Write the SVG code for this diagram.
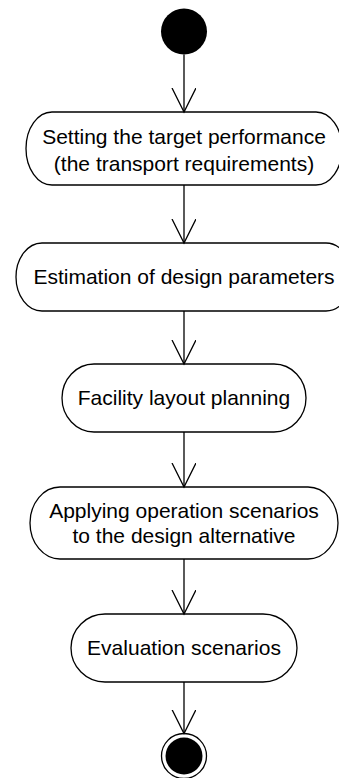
<svg xmlns="http://www.w3.org/2000/svg" width="339" height="778" viewBox="0 0 339 778">
<style>
.node{fill:#fff;stroke:#000;stroke-width:1.3}
.lbl{font-family:"Liberation Sans",Arial,sans-serif;font-size:21px;fill:#000;text-anchor:middle}
.edge{fill:none;stroke:#000;stroke-width:1.3}
</style>
<defs>
<marker id="open" markerUnits="userSpaceOnUse" markerWidth="30" markerHeight="30" refX="24" refY="12" orient="auto" viewBox="0 0 30 30">
<path d="M0,0 L24,12 L0,24" fill="none" stroke="#000" stroke-width="1.3"/>
</marker>
</defs>
<g id="start"><circle cx="184" cy="31.5" r="23" fill="#000"/></g>
<g id="n1"><rect class="node" x="26" y="112" width="316" height="73" rx="26" ry="36.5"/>
<text class="lbl" x="184" y="144">Setting the target performance</text>
<text class="lbl" x="184" y="171">(the transport requirements)</text></g>
<g id="n2"><rect class="node" x="16" y="243" width="336" height="68" rx="26" ry="34"/>
<text class="lbl" x="184" y="284">Estimation of design parameters</text></g>
<g id="n3"><rect class="node" x="62" y="364" width="244" height="68" rx="32" ry="34"/>
<text class="lbl" x="184" y="405">Facility layout planning</text></g>
<g id="n4"><rect class="node" x="30" y="487" width="308" height="72" rx="30" ry="36"/>
<text class="lbl" x="184" y="518">Applying operation scenarios</text>
<text class="lbl" x="184" y="543">to the design alternative</text></g>
<g id="n5"><rect class="node" x="71" y="614" width="226" height="68" rx="34" ry="34"/>
<text class="lbl" x="184" y="655">Evaluation scenarios</text></g>
<g id="end"><circle cx="184" cy="756" r="22.5" fill="#fff" stroke="#000" stroke-width="1.3"/><circle cx="184" cy="756" r="18.5" fill="#000"/></g>
<g id="edges">
<line class="edge" x1="184" y1="54.5" x2="184" y2="112" marker-end="url(#open)"/>
<line class="edge" x1="184" y1="185" x2="184" y2="243" marker-end="url(#open)"/>
<line class="edge" x1="184" y1="311" x2="184" y2="364" marker-end="url(#open)"/>
<line class="edge" x1="184" y1="432" x2="184" y2="487" marker-end="url(#open)"/>
<line class="edge" x1="184" y1="559" x2="184" y2="614" marker-end="url(#open)"/>
<line class="edge" x1="184" y1="682" x2="184" y2="733.5" marker-end="url(#open)"/>
</g>
</svg>
